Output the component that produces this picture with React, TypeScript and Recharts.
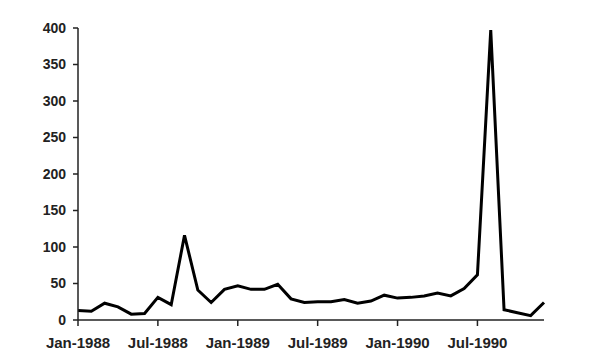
import { CartesianGrid, Line, LineChart, XAxis, YAxis } from 'recharts';

const months = [
  'Jan-1988', 'Feb-1988', 'Mar-1988', 'Apr-1988', 'May-1988', 'Jun-1988',
  'Jul-1988', 'Aug-1988', 'Sep-1988', 'Oct-1988', 'Nov-1988', 'Dec-1988',
  'Jan-1989', 'Feb-1989', 'Mar-1989', 'Apr-1989', 'May-1989', 'Jun-1989',
  'Jul-1989', 'Aug-1989', 'Sep-1989', 'Oct-1989', 'Nov-1989', 'Dec-1989',
  'Jan-1990', 'Feb-1990', 'Mar-1990', 'Apr-1990', 'May-1990', 'Jun-1990',
  'Jul-1990', 'Aug-1990', 'Sep-1990', 'Oct-1990', 'Nov-1990', 'Dec-1990',
];

const values = [
  13, 12, 23, 18, 8, 9,
  31, 21, 116, 41, 24, 42,
  47, 42, 42, 49, 29, 24,
  25, 25, 28, 23, 26, 34,
  30, 31, 33, 37, 33, 43,
  62, 397, 14, 10, 6, 24,
];

const yTicks = [0, 50, 100, 150, 200, 250, 300, 350, 400];

const data = months.map((month, i) => ({ month, value: values[i] }));

const font = 'Liberation Sans, Arial, sans-serif';

export default function App() {
  return (
    <div style={{ position: 'absolute', left: 0, top: 0, background: '#fff' }}>
      <LineChart
        width={600}
        height={360}
        data={data}
        margin={{ top: 28, right: 56, bottom: 10, left: 0 }}
      >
        <CartesianGrid stroke="none" />
        <XAxis
          dataKey="month"
          interval={5}
          height={30}
          tickSize={6}
          tickMargin={11}
          stroke="#222"
          strokeWidth={1.5}
          tick={{ fill: '#222', fontSize: 15, fontWeight: 'bold', fontFamily: font }}
        />
        <YAxis
          domain={[0, 400]}
          ticks={yTicks}
          width={78}
          tickSize={5}
          tickMargin={7}
          stroke="#222"
          strokeWidth={1.5}
          tick={{ fill: '#222', fontSize: 14, fontWeight: 'bold', fontFamily: font }}
        />
        <Line
          type="linear"
          dataKey="value"
          stroke="#000"
          strokeWidth={3}
          dot={false}
          isAnimationActive={false}
        />
      </LineChart>
    </div>
  );
}
